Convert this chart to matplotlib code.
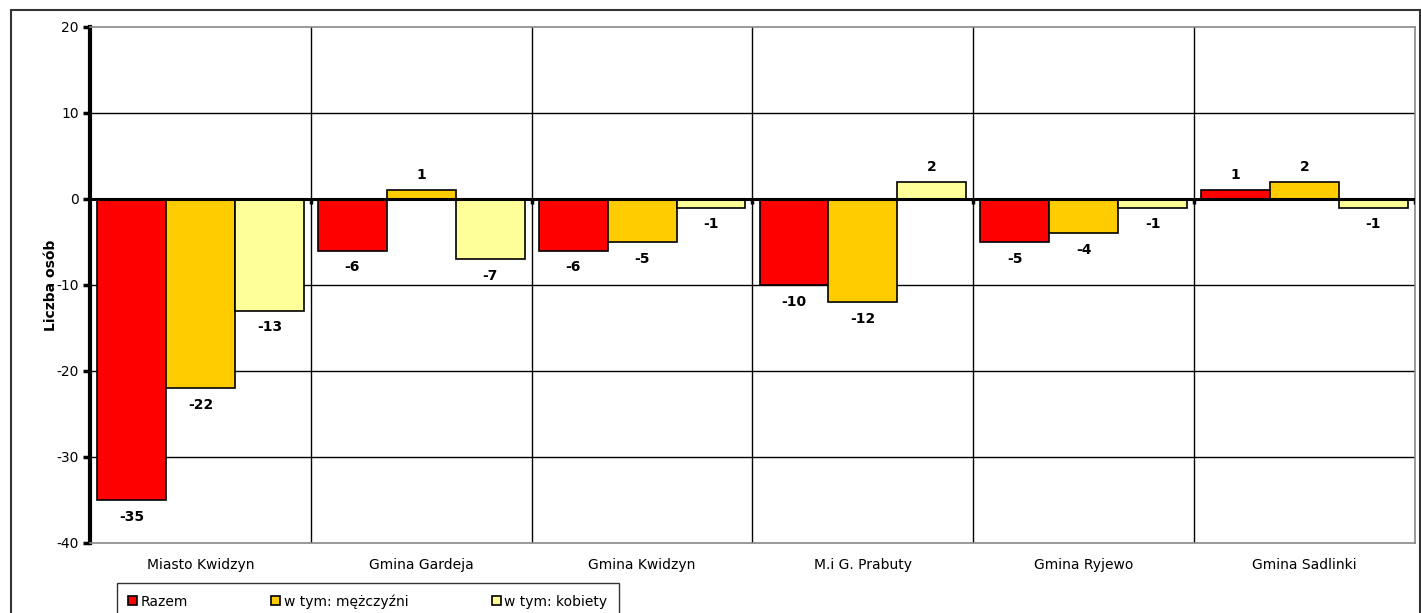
import matplotlib.pyplot as plt
import numpy as np
from matplotlib.patches import Rectangle

plt.rcParams['font.family'] = ['DejaVu Sans']
plt.rcParams['axes.unicode_minus'] = False

gminy = ['Miasto Kwidzyn', 'Gmina Gardeja', 'Gmina Kwidzyn', 'M.i G. Prabuty', 'Gmina Ryjewo', 'Gmina Sadlinki']
razem = [-35, -6, -6, -10, -5, 1]
mezczyzni = [-22, 1, -5, -12, -4, 2]
kobiety = [-13, -7, -1, 2, -1, -1]
serie = ['Razem', 'w tym: mężczyźni', 'w tym: kobiety']
kolory = ['#ff0000', '#ffcc00', '#ffff99']

fig = plt.figure(figsize=(14.21, 6.13), dpi=100)
ax = fig.add_axes([90/1421, 70/613, 1325/1421, 516/613])

x = np.arange(len(gminy))
w = 0.312
for k, (vals, kol, nazwa) in enumerate(zip([razem, mezczyzni, kobiety], kolory, serie)):
    bars = ax.bar(x + (k - 1) * w, vals, w, color=kol, edgecolor='black', linewidth=1.2, label=nazwa, zorder=3)
    for b, v in zip(bars, vals):
        off = 11 if v > 0 else -12
        ax.annotate(str(v), (b.get_x() + b.get_width() / 2, v), xytext=(0, off),
                    textcoords='offset points', ha='center', va='center',
                    fontsize=10, fontweight='bold')

ax.set_xlim(-0.5, len(gminy) - 0.5)
ax.set_ylim(-40, 20)
ax.set_yticks(range(-40, 21, 10))
for yv in [-30, -20, -10, 10]:
    ax.axhline(yv, color='black', lw=1, zorder=1)
granice = np.arange(0.5, len(gminy) - 0.5)
for g in granice:
    ax.axvline(g, color='black', lw=1, zorder=1)
ax.axhline(0, color='black', lw=2.2, zorder=4)
ax.vlines(list(granice) + [len(gminy) - 0.5], -0.6, 0, color='black', lw=2.5, zorder=4)

ax.set_xticks(x)
ax.set_xticklabels(gminy, fontsize=10)
ax.tick_params(axis='x', length=0, pad=11)
ax.tick_params(axis='y', length=5, width=2.5, labelsize=10, pad=3)
for s in ['top', 'right', 'bottom']:
    ax.spines[s].set_color('#888888')
    ax.spines[s].set_linewidth(1.2)
ax.spines['left'].set_linewidth(3)
ax.set_ylabel('Liczba osób', fontsize=10, fontweight='bold', labelpad=-1)

leg = fig.legend(loc='upper left', bbox_to_anchor=(117/1421, (613-583)/613), ncol=3,
                 fontsize=10, frameon=True, fancybox=False, edgecolor='black',
                 handlelength=0.65, handleheight=0.65, handletextpad=0.25,
                 columnspacing=6.0, borderpad=0.8, borderaxespad=0)
leg.get_frame().set_linewidth(1)

fig.patches.append(Rectangle((11/1421, -0.1), 1409/1421, 0.1 + (613-10)/613,
                             transform=fig.transFigure, fill=False,
                             edgecolor='#333333', linewidth=1.5))

fig.savefig('out.png', dpi=100)
